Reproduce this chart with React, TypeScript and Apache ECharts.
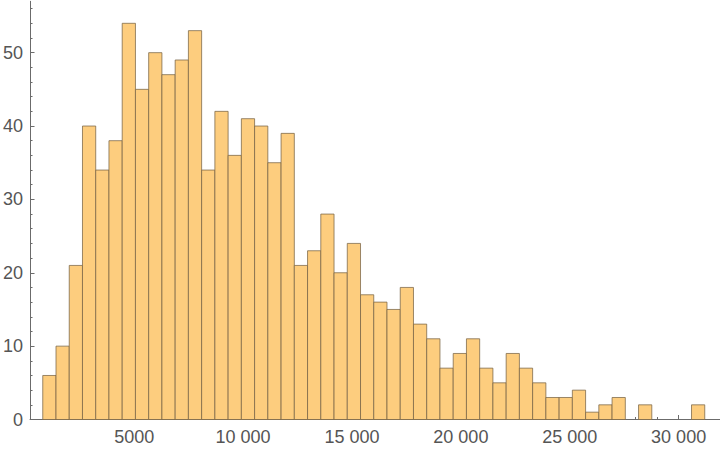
import React, { useEffect, useRef } from "react";
import * as echarts from "echarts";

// Histogram counts per bin
const counts: number[] = [
  6, 10, 21, 40, 34, 38, 54, 45, 50, 47, 49, 53, 34, 42, 36, 41, 40, 35, 39, 21,
  23, 28, 20, 24, 17, 16, 15, 18, 13, 11, 7, 9, 11, 7, 5, 9, 7, 5, 3, 3,
  4, 1, 2, 3, 0, 2, 0, 0, 0, 2,
];
const binStart = 800;
const binWidth = 608;

const xLabelValues: number[] = [5000, 10000, 15000, 20000, 25000, 30000];
const xMinorTicks: number[] = [
  1000, 2000, 3000, 4000, 5000, 6000, 7000, 8000, 9000, 10000, 11000, 12000, 13000,
  14000, 15000, 16000, 17000, 18000, 19000, 20000, 21000, 22000, 23000, 24000,
  25000, 26000, 27000, 28000, 29000, 30000, 31000,
];
const yLabelValues: number[] = [0, 10, 20, 30, 40, 50];
const yMinorTicks: number[] = [
  2, 4, 6, 8, 12, 14, 16, 18, 22, 24, 26, 28, 32, 34, 36, 38, 42, 44, 46, 48, 52, 54, 56,
];

const X_MIN = 215;
const X_MAX = 31900;
const Y_MIN = 0;
const Y_MAX = 57;

const FONT = "'Liberation Sans', Arial, sans-serif";
const AXIS_COLOR = "#6b6b6b";
const LABEL_COLOR = "#555555";

function fmt(v: number): string {
  const s = String(Math.round(v));
  if (s.length >= 5) {
    return s.slice(0, s.length - 3) + " " + s.slice(s.length - 3);
  }
  return s;
}

export default function App() {
  const ref = useRef<HTMLDivElement>(null);

  useEffect(() => {
    if (!ref.current) return;
    const chart = echarts.init(ref.current, undefined, { renderer: "svg" });

    const data = counts
      .map((c, i) => [binStart + i * binWidth, binStart + (i + 1) * binWidth, c])
      .filter((d) => d[2] > 0);

    const baseX = {
      type: "value" as const,
      min: X_MIN,
      max: X_MAX,
      position: "bottom" as const,
      splitLine: { show: false },
    };
    const baseY = {
      type: "value" as const,
      min: Y_MIN,
      max: Y_MAX,
      position: "left" as const,
      splitLine: { show: false },
    };

    chart.setOption({
      animation: false,
      grid: { left: 29, right: 0, top: 1.3, bottom: 29.5, containLabel: false },
      xAxis: [
        {
          ...baseX,
          axisLine: { show: true, onZero: false, lineStyle: { color: AXIS_COLOR, width: 1 } },
          axisTick: {
            show: true,
            inside: true,
            length: 2.5,
            customValues: xMinorTicks,
            lineStyle: { color: AXIS_COLOR, width: 1 },
          },
          axisLabel: {
            show: true,
            customValues: xLabelValues,
            formatter: (v: number) => fmt(v),
            color: LABEL_COLOR,
            fontSize: 18,
            fontFamily: FONT,
            margin: 8,
          },
        },
        {
          ...baseX,
          axisLine: { show: false, onZero: false },
          axisTick: {
            show: true,
            inside: true,
            length: 4.5,
            customValues: xLabelValues,
            lineStyle: { color: AXIS_COLOR, width: 1 },
          },
          axisLabel: { show: false },
        },
      ],
      yAxis: [
        {
          ...baseY,
          axisLine: { show: true, onZero: false, lineStyle: { color: AXIS_COLOR, width: 1 } },
          axisTick: {
            show: true,
            inside: true,
            length: 2.5,
            customValues: yMinorTicks,
            lineStyle: { color: AXIS_COLOR, width: 1 },
          },
          axisLabel: {
            show: true,
            customValues: yLabelValues,
            formatter: (v: number) => fmt(v),
            color: LABEL_COLOR,
            fontSize: 18,
            fontFamily: FONT,
            margin: 7,
          },
        },
        {
          ...baseY,
          axisLine: { show: false, onZero: false },
          axisTick: {
            show: true,
            inside: true,
            length: 4.5,
            customValues: yLabelValues,
            lineStyle: { color: AXIS_COLOR, width: 1 },
          },
          axisLabel: { show: false },
        },
      ],
      series: [
        {
          type: "custom",
          xAxisIndex: 0,
          yAxisIndex: 0,
          encode: { x: [0, 1], y: 2 },
          data,
          renderItem: (params: any, api: any) => {
            const x0 = api.value(0);
            const x1 = api.value(1);
            const c = api.value(2);
            const p0 = api.coord([x0, c]);
            const p1 = api.coord([x1, 0]);
            return {
              type: "rect",
              shape: {
                x: p0[0],
                y: p0[1],
                width: p1[0] - p0[0],
                height: p1[1] - p0[1],
              },
              style: {
                fill: "#FDCD7E",
                stroke: "rgba(120,100,70,0.75)",
                lineWidth: 1,
              },
            };
          },
        },
      ],
    });

    return () => {
      chart.dispose();
    };
  }, []);

  return (
    <div
      ref={ref}
      style={{ position: "fixed", left: 0, top: 0, width: 720, height: 449, background: "#fff" }}
    />
  );
}
